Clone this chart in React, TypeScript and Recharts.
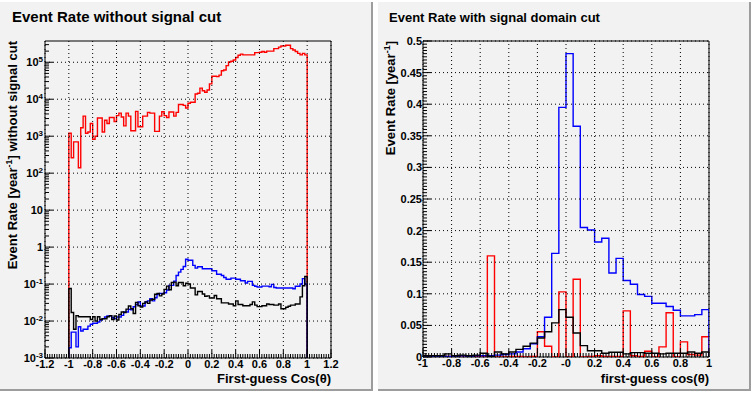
import {
  Line,
  LineChart,
  ReferenceArea,
  XAxis,
  YAxis,
} from "recharts";

const FONT = "'Liberation Sans', Arial, Helvetica, sans-serif";

// left pad: 100 bins of 0.02 on [-1, 1], event rate per bin
const LEFT_RED = [
  1200, 260, 700, 700, 140, 1700, 3500, 1200, 1300, 2200,
  830, 1000, 3100, 3100, 1300, 2700, 2200, 3200, 3200, 2500,
  3600, 4200, 3300, 1900, 4200, 3500, 1400, 1400, 4700, 1800,
  1800, 3500, 3500, 4400, 4200, 4200, 1350, 1350, 3500, 4600,
  3600, 3200, 4500, 4500, 3500, 4400, 7200, 7200, 6800, 5800,
  7800, 8300, 8300, 13800, 14500, 20000, 17000, 15500, 17800, 26000,
  42000, 42000, 41000, 45000, 59000, 62000, 81000, 102000, 107000, 115000,
  135000, 155000, 166000, 158000, 158000, 158000, 158000, 158000, 182000, 182000,
  186000, 195000, 186000, 200000, 200000, 200000, 234000, 234000, 257000, 275000,
  275000, 288000, 288000, 234000, 214000, 195000, 174000, 158000, 174000, 158000,
];

const LEFT_BLUE = [
  0.0019, 0.005, 0.005, 0.002, 0.007, 0.0054, 0.006, 0.006, 0.0073, 0.0082,
  0.0087, 0.0087, 0.0094, 0.0106, 0.0116, 0.0128, 0.0137, 0.0137, 0.0123, 0.0116,
  0.0128, 0.0128, 0.0142, 0.0175, 0.0175, 0.0207, 0.02, 0.0244, 0.028, 0.0326,
  0.0254, 0.0254, 0.0326, 0.035, 0.04, 0.035, 0.0427, 0.0526, 0.056, 0.056,
  0.058, 0.069, 0.092, 0.092, 0.12, 0.17, 0.21, 0.25, 0.3, 0.47,
  0.44, 0.44, 0.32, 0.27, 0.295, 0.295, 0.26, 0.26, 0.26, 0.26,
  0.23, 0.23, 0.185, 0.185, 0.17, 0.15, 0.135, 0.135, 0.145, 0.145,
  0.135, 0.135, 0.123, 0.123, 0.107, 0.118, 0.118, 0.092, 0.087, 0.083,
  0.083, 0.088, 0.088, 0.088, 0.085, 0.098, 0.081, 0.078, 0.078, 0.078,
  0.078, 0.078, 0.078, 0.078, 0.075, 0.087, 0.087, 0.1, 0.14, 0.1,
];

const LEFT_BLACK = [
  0.076, 0.017, 0.006, 0.014, 0.013, 0.013, 0.013, 0.013, 0.013, 0.011,
  0.013, 0.01, 0.013, 0.011, 0.0115, 0.0115, 0.013, 0.014, 0.011, 0.0137,
  0.0107, 0.015, 0.0175, 0.017, 0.021, 0.0255, 0.0215, 0.016, 0.032, 0.026,
  0.024, 0.03, 0.033, 0.03, 0.037, 0.039, 0.053, 0.056, 0.048, 0.054,
  0.072, 0.088, 0.07, 0.11, 0.113, 0.09, 0.11, 0.11, 0.09, 0.105,
  0.1, 0.078, 0.078, 0.051, 0.063, 0.063, 0.054, 0.047, 0.048, 0.042,
  0.042, 0.049, 0.04, 0.04, 0.031, 0.031, 0.031, 0.029, 0.029, 0.026,
  0.035, 0.028, 0.028, 0.026, 0.026, 0.026, 0.028, 0.033, 0.027, 0.0245,
  0.0245, 0.026, 0.026, 0.029, 0.028, 0.028, 0.027, 0.027, 0.029, 0.0215,
  0.0215, 0.0235, 0.025, 0.027, 0.027, 0.029, 0.029, 0.045, 0.09, 0.16,
];

// right pad: 40 bins of 0.05 on [-1, 1]
const RIGHT_RED = [
  0.001, 0.001, 0.001, 0.001, 0.001, 0.002, 0.001, 0.001, 0.001, 0.16,
  0, 0, 0.001, 0.001, 0, 0.001, 0.04, 0.017, 0, 0.103,
  0, 0.123, 0, 0.001, 0.002, 0.001, 0.001, 0.001, 0.073, 0.002,
  0.001, 0.009, 0, 0.016, 0.07, 0, 0.024, 0.004, 0.003, 0.032,
];

const RIGHT_BLUE = [
  0.001, 0.001, 0.001, 0.001, 0.001, 0.002, 0.001, 0.002, 0.002, 0.002,
  0.003, 0.004, 0.005, 0.008, 0.013, 0.021, 0.032, 0.063, 0.164, 0.395,
  0.48, 0.365, 0.205, 0.201, 0.182, 0.188, 0.133, 0.156, 0.121, 0.115,
  0.099, 0.096, 0.085, 0.085, 0.08, 0.074, 0.065, 0.065, 0.067, 0.075,
];

const RIGHT_BLACK = [
  0.002, 0.002, 0.002, 0.005, 0.002, 0.003, 0.002, 0.003, 0.006, 0.001,
  0.008, 0.005, 0.008, 0.012, 0.017, 0.022, 0.03, 0.04, 0.054, 0.075,
  0.063, 0.038, 0.018, 0.01, 0.01, 0.006, 0.0075, 0.0075, 0.005, 0.007,
  0.007, 0.006, 0.006, 0.005, 0.006, 0.006, 0.006, 0.008, 0.006, 0.008,
];

const LEFT_X_TICKS = [-1.2, -1, -0.8, -0.6, -0.4, -0.2, 0, 0.2, 0.4, 0.6, 0.8, 1, 1.2];
const LEFT_X_LABELS = ["-1.2", "-1", "-0.8", "-0.6", "-0.4", "-0.2", "0", "0.2", "0.4", "0.6", "0.8", "1", "1.2"];
const LEFT_Y_TICKS = [1e-3, 1e-2, 1e-1, 1, 10, 1e2, 1e3, 1e4, 1e5];
const LEFT_Y_LABELS: [string, string][] = [
  ["10", "-3"], ["10", "-2"], ["10", "-1"], ["1", ""], ["10", ""],
  ["10", "2"], ["10", "3"], ["10", "4"], ["10", "5"],
];
const LEFT_Y_MAX = 3.76e5;

const RIGHT_X_TICKS = [-1, -0.8, -0.6, -0.4, -0.2, 0, 0.2, 0.4, 0.6, 0.8, 1];
const RIGHT_X_LABELS = ["-1", "-0.8", "-0.6", "-0.4", "-0.2", "-0", "0.2", "0.4", "0.6", "0.8", "1"];
const RIGHT_Y_TICKS = [0, 0.05, 0.1, 0.15, 0.2, 0.25, 0.3, 0.35, 0.4, 0.45, 0.5];
const RIGHT_Y_LABELS = ["0", "0.05", "0.1", "0.15", "0.2", "0.25", "0.3", "0.35", "0.4", "0.45", "0.5"];

const steps = (lo: number, hi: number, d: number) =>
  Array.from({ length: Math.round((hi - lo) / d) + 1 }, (_, i) =>
    Math.round((lo + i * d) * 1000) / 1000,
  );

const LEFT_X_MINOR = steps(-1.2, 1.2, 0.02);
const RIGHT_X_MINOR = steps(-1, 1, 0.02);
const RIGHT_Y_MINOR = steps(0, 0.5, 0.005);
const LEFT_Y_MINOR = LEFT_Y_TICKS.flatMap((d) =>
  [1, 2, 3, 4, 5, 6, 7, 8, 9].map((m) => m * d),
).filter((v) => v <= LEFT_Y_MAX);

type Row = { x: number; red: number; blue: number; black: number };

// histogram outline: start and end at the floor so the edges are drawn
function histRows(
  red: number[],
  blue: number[],
  black: number[],
  floor: number,
): Row[] {
  const w = 2 / red.length;
  const rows: Row[] = [{ x: -1, red: floor, blue: floor, black: floor }];
  red.forEach((_, i) => {
    rows.push({ x: -1 + i * w, red: red[i], blue: blue[i], black: black[i] });
  });
  rows.push({ x: 1, red: floor, blue: floor, black: floor });
  return rows;
}

const findIndex = (ticks: number[], v: number) =>
  ticks.findIndex((t) => Math.abs(t - v) <= Math.abs(t) * 1e-6 + 1e-12);

const labelProps = {
  fontFamily: FONT,
  fontWeight: "bold" as const,
  fontSize: 11,
  fill: "#000",
};

// x ticks: inward ROOT tick marks, dotted grid at the major ones, labels
function makeXTick(major: number[], labels: string[], plotH: number) {
  return ({ x, y, payload }: any) => {
    const i = findIndex(major, payload.value);
    const isMajor = i >= 0;
    return (
      <g>
        {isMajor && (
          <line x1={x} x2={x} y1={y} y2={y - plotH} stroke="#000" strokeDasharray="1 3" />
        )}
        <line x1={x} x2={x} y1={y} y2={y - (isMajor ? 8 : 4)} stroke="#000" />
        {isMajor && (
          <text x={x} y={y + 9.5} textAnchor="middle" {...labelProps}>
            {labels[i]}
          </text>
        )}
      </g>
    );
  };
}

function makeYTick(
  major: number[],
  render: (i: number) => React.ReactNode,
  plotW: number,
  gap: number,
) {
  return ({ x, y, payload }: any) => {
    const i = findIndex(major, payload.value);
    const isMajor = i >= 0;
    return (
      <g>
        {isMajor && (
          <line x1={x} x2={x + plotW} y1={y} y2={y} stroke="#000" strokeDasharray="1 3" />
        )}
        <line x1={x} x2={x + (isMajor ? 8 : 4)} y1={y} y2={y} stroke="#000" />
        {isMajor && (
          <text x={x - gap} y={y + 4} textAnchor="end" {...labelProps}>
            {render(i)}
          </text>
        )}
      </g>
    );
  };
}

const logLabel = (i: number) => {
  const [base, exp] = LEFT_Y_LABELS[i];
  return (
    <>
      {base}
      {exp && (
        <tspan dy={-4} fontSize={8}>
          {exp}
        </tspan>
      )}
    </>
  );
};
const linLabel = (i: number) => RIGHT_Y_LABELS[i];

type PanelProps = {
  width: number;
  yAxisWidth: number;
  marginRight: number;
  xAxisHeight: number;
  rows: Row[];
  xDomain: [number, number];
  yDomain: [number, number];
  yScale: "log" | "linear";
  xTicks: number[];
  xLabels: string[];
  xMinor: number[];
  yTicks: number[];
  yMinor: number[];
  yLabel: (i: number) => React.ReactNode;
  yGap: number;
};

function Panel(p: PanelProps) {
  const plotW = p.width - p.yAxisWidth - p.marginRight;
  const plotH = 392 - 41 - p.xAxisHeight;
  return (
    <LineChart
      width={p.width}
      height={392}
      data={p.rows}
      margin={{ top: 41, right: p.marginRight, bottom: 0, left: 0 }}
    >
      <XAxis
        dataKey="x"
        type="number"
        domain={p.xDomain}
        allowDataOverflow
        ticks={p.xMinor}
        interval={0}
        height={p.xAxisHeight}
        axisLine={false}
        tickLine={false}
        tickSize={0}
        tickMargin={0}
        tick={makeXTick(p.xTicks, p.xLabels, plotH)}
      />
      <YAxis
        type="number"
        scale={p.yScale}
        domain={p.yDomain}
        allowDataOverflow
        ticks={p.yMinor}
        interval={0}
        width={p.yAxisWidth}
        axisLine={false}
        tickLine={false}
        tickSize={0}
        tickMargin={0}
        tick={makeYTick(p.yTicks, p.yLabel, plotW, p.yGap)}
      />

      <Line
        dataKey="red"
        type="stepAfter"
        stroke="#ff0000"
        strokeWidth={1.4}
        dot={false}
        activeDot={false}
        isAnimationActive={false}
      />
      <Line
        dataKey="blue"
        type="stepAfter"
        stroke="#0000ff"
        strokeWidth={1.4}
        dot={false}
        activeDot={false}
        isAnimationActive={false}
      />
      <Line
        dataKey="black"
        type="stepAfter"
        stroke="#000000"
        strokeWidth={1.4}
        dot={false}
        activeDot={false}
        isAnimationActive={false}
      />

      <ReferenceArea
        x1={p.xDomain[0]}
        x2={p.xDomain[1]}
        y1={p.yDomain[0]}
        y2={p.yDomain[1]}
        fill="none"
        stroke="#000"
        strokeWidth={1}
        fillOpacity={0}
      />
    </LineChart>
  );
}

const padStyle = (left: number): React.CSSProperties => ({
  position: "absolute",
  left,
  top: 2,
  width: 373,
  height: 389,
  boxSizing: "border-box",
  background: "#f2f2f2",
  borderRight: "2px solid #9d9d9d",
  borderBottom: "2px solid #9d9d9d",
});

const textStyle = {
  fontFamily: FONT,
  fontWeight: "bold" as const,
  fill: "#000",
};

export default function App() {
  const leftRows = histRows(LEFT_RED, LEFT_BLUE, LEFT_BLACK, 1e-3);
  const rightRows = histRows(RIGHT_RED, RIGHT_BLUE, RIGHT_BLACK, 0);

  return (
    <div
      style={{
        position: "absolute",
        left: 0,
        top: 0,
        width: 756,
        height: 394,
        background: "#ffffff",
        overflow: "hidden",
      }}
    >
      <div style={padStyle(0)} />
      <div style={padStyle(378)} />

      <div style={{ position: "absolute", left: 0, top: 0 }}>
        <Panel
          width={372}
          yAxisWidth={45}
          marginRight={41}
          xAxisHeight={34}
          rows={leftRows}
          xDomain={[-1.2, 1.2]}
          yDomain={[1e-3, LEFT_Y_MAX]}
          yScale="log"
          xTicks={LEFT_X_TICKS}
          xLabels={LEFT_X_LABELS}
          xMinor={LEFT_X_MINOR}
          yTicks={LEFT_Y_TICKS}
          yMinor={LEFT_Y_MINOR}
          yLabel={logLabel}
          yGap={2}
        />
      </div>

      <div style={{ position: "absolute", left: 377, top: 0 }}>
        <Panel
          width={379}
          yAxisWidth={46}
          marginRight={47}
          xAxisHeight={35}
          rows={rightRows}
          xDomain={[-1, 1]}
          yDomain={[0, 0.5]}
          yScale="linear"
          xTicks={RIGHT_X_TICKS}
          xLabels={RIGHT_X_LABELS}
          xMinor={RIGHT_X_MINOR}
          yTicks={RIGHT_Y_TICKS}
          yMinor={RIGHT_Y_MINOR}
          yLabel={linLabel}
          yGap={1}
        />
      </div>

      <svg
        width={756}
        height={394}
        style={{ position: "absolute", left: 0, top: 0, pointerEvents: "none" }}
      >
        <text x={12} y={22} fontSize={15} {...textStyle}>
          Event Rate without signal cut
        </text>
        <text
          x={17}
          y={41}
          fontSize={13}
          textAnchor="end"
          transform="rotate(-90 17 41)"
          {...textStyle}
        >
          Event Rate [year
          <tspan dy={-5} fontSize={9}>-1</tspan>
          <tspan dy={5}>] without signal cut</tspan>
        </text>
        <text x={331} y={382.5} fontSize={13} textAnchor="end" {...textStyle}>
          First-guess Cos(θ)
        </text>

        <text x={389} y={22} fontSize={13} {...textStyle}>
          Event Rate with signal domain cut
        </text>
        <text
          x={395}
          y={41}
          fontSize={13}
          textAnchor="end"
          transform="rotate(-90 395 41)"
          {...textStyle}
        >
          Event Rate [year
          <tspan dy={-5} fontSize={9}>-1</tspan>
          <tspan dy={5}>]</tspan>
        </text>
        <text x={709} y={382.5} fontSize={13} textAnchor="end" {...textStyle}>
          first-guess cos(θ)
        </text>
      </svg>
    </div>
  );
}
